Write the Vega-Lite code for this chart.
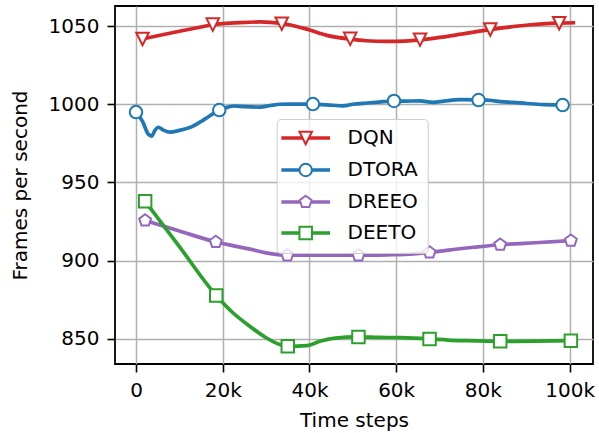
{
  "$schema": "https://vega.github.io/schema/vega-lite/v6.json",
  "width": 478,
  "height": 358,
  "autosize": {"type": "none"},
  "padding": {"left": 115, "top": 6, "right": 6, "bottom": 69},
  "config": {
    "font": "DejaVu Sans",
    "view": {"stroke": "black", "strokeWidth": 1.8},
    "axis": {
      "domain": false,
      "grid": true,
      "gridColor": "#b0b0b0",
      "gridWidth": 1.5,
      "tickColor": "black",
      "tickWidth": 1.6,
      "tickSize": 8,
      "labelFontSize": 20,
      "labelColor": "black",
      "labelPadding": 8,
      "titleFontSize": 20,
      "titleFontWeight": "normal",
      "titleColor": "black"
    }
  },
  "datasets": {
    "lines": [
      {"method": "DQN", "step": 1500, "fps": 1041.7},
      {"method": "DQN", "step": 5000, "fps": 1043.8},
      {"method": "DQN", "step": 10000, "fps": 1046.7},
      {"method": "DQN", "step": 15000, "fps": 1049.4},
      {"method": "DQN", "step": 17700, "fps": 1050.8},
      {"method": "DQN", "step": 20000, "fps": 1051.5},
      {"method": "DQN", "step": 24000, "fps": 1052.2},
      {"method": "DQN", "step": 28600, "fps": 1052.6},
      {"method": "DQN", "step": 33600, "fps": 1051.6},
      {"method": "DQN", "step": 39400, "fps": 1048.0},
      {"method": "DQN", "step": 44000, "fps": 1044.0},
      {"method": "DQN", "step": 49400, "fps": 1041.6},
      {"method": "DQN", "step": 53000, "fps": 1040.6},
      {"method": "DQN", "step": 57800, "fps": 1040.2},
      {"method": "DQN", "step": 62000, "fps": 1040.4},
      {"method": "DQN", "step": 65500, "fps": 1041.1},
      {"method": "DQN", "step": 70000, "fps": 1042.7},
      {"method": "DQN", "step": 75000, "fps": 1044.8},
      {"method": "DQN", "step": 81700, "fps": 1047.7},
      {"method": "DQN", "step": 86000, "fps": 1049.3},
      {"method": "DQN", "step": 91000, "fps": 1050.8},
      {"method": "DQN", "step": 97600, "fps": 1051.8},
      {"method": "DQN", "step": 101300, "fps": 1052.1},

      {"method": "DTORA", "step": 0, "fps": 995.0},
      {"method": "DTORA", "step": 1500, "fps": 989.0},
      {"method": "DTORA", "step": 2800, "fps": 981.0},
      {"method": "DTORA", "step": 3600, "fps": 979.7},
      {"method": "DTORA", "step": 4300, "fps": 983.0},
      {"method": "DTORA", "step": 5100, "fps": 985.3},
      {"method": "DTORA", "step": 6300, "fps": 983.5},
      {"method": "DTORA", "step": 7800, "fps": 982.2},
      {"method": "DTORA", "step": 10000, "fps": 983.3},
      {"method": "DTORA", "step": 12900, "fps": 985.7},
      {"method": "DTORA", "step": 15000, "fps": 989.0},
      {"method": "DTORA", "step": 16700, "fps": 992.0},
      {"method": "DTORA", "step": 19200, "fps": 996.3},
      {"method": "DTORA", "step": 21000, "fps": 998.0},
      {"method": "DTORA", "step": 22600, "fps": 998.9},
      {"method": "DTORA", "step": 25000, "fps": 998.5},
      {"method": "DTORA", "step": 28600, "fps": 998.2},
      {"method": "DTORA", "step": 31000, "fps": 999.2},
      {"method": "DTORA", "step": 33200, "fps": 1000.0},
      {"method": "DTORA", "step": 36000, "fps": 1000.1},
      {"method": "DTORA", "step": 40800, "fps": 1000.1},
      {"method": "DTORA", "step": 44000, "fps": 999.6},
      {"method": "DTORA", "step": 47800, "fps": 999.0},
      {"method": "DTORA", "step": 50000, "fps": 1000.0},
      {"method": "DTORA", "step": 53200, "fps": 1000.8},
      {"method": "DTORA", "step": 56000, "fps": 1001.4},
      {"method": "DTORA", "step": 59500, "fps": 1002.1},
      {"method": "DTORA", "step": 62000, "fps": 1002.0},
      {"method": "DTORA", "step": 65500, "fps": 1002.2},
      {"method": "DTORA", "step": 68500, "fps": 1001.2},
      {"method": "DTORA", "step": 71000, "fps": 1002.0},
      {"method": "DTORA", "step": 74700, "fps": 1003.0},
      {"method": "DTORA", "step": 79000, "fps": 1002.8},
      {"method": "DTORA", "step": 82000, "fps": 1002.4},
      {"method": "DTORA", "step": 84000, "fps": 1001.7},
      {"method": "DTORA", "step": 87000, "fps": 1001.2},
      {"method": "DTORA", "step": 90100, "fps": 1000.5},
      {"method": "DTORA", "step": 94000, "fps": 999.8},
      {"method": "DTORA", "step": 98400, "fps": 999.6},
      {"method": "DTORA", "step": 99400, "fps": 999.6},

      {"method": "DREEO", "step": 2100, "fps": 925.7},
      {"method": "DREEO", "step": 10000, "fps": 919.0},
      {"method": "DREEO", "step": 18400, "fps": 912.0},
      {"method": "DREEO", "step": 22000, "fps": 909.8},
      {"method": "DREEO", "step": 26300, "fps": 907.4},
      {"method": "DREEO", "step": 30000, "fps": 905.0},
      {"method": "DREEO", "step": 34900, "fps": 903.5},
      {"method": "DREEO", "step": 40000, "fps": 903.6},
      {"method": "DREEO", "step": 45000, "fps": 903.6},
      {"method": "DREEO", "step": 51300, "fps": 903.5},
      {"method": "DREEO", "step": 58000, "fps": 903.8},
      {"method": "DREEO", "step": 64000, "fps": 904.4},
      {"method": "DREEO", "step": 67700, "fps": 905.3},
      {"method": "DREEO", "step": 72000, "fps": 906.8},
      {"method": "DREEO", "step": 78000, "fps": 908.6},
      {"method": "DREEO", "step": 84000, "fps": 910.2},
      {"method": "DREEO", "step": 92000, "fps": 911.5},
      {"method": "DREEO", "step": 100300, "fps": 912.8},

      {"method": "DEETO", "step": 2100, "fps": 938.0},
      {"method": "DEETO", "step": 10000, "fps": 909.0},
      {"method": "DEETO", "step": 18500, "fps": 877.8},
      {"method": "DEETO", "step": 22400, "fps": 866.6},
      {"method": "DEETO", "step": 26300, "fps": 858.0},
      {"method": "DEETO", "step": 30100, "fps": 850.6},
      {"method": "DEETO", "step": 33200, "fps": 846.4},
      {"method": "DEETO", "step": 35000, "fps": 845.3},
      {"method": "DEETO", "step": 39400, "fps": 845.7},
      {"method": "DEETO", "step": 42400, "fps": 848.5},
      {"method": "DEETO", "step": 45500, "fps": 850.4},
      {"method": "DEETO", "step": 51300, "fps": 851.3},
      {"method": "DEETO", "step": 56000, "fps": 851.0},
      {"method": "DEETO", "step": 61000, "fps": 850.8},
      {"method": "DEETO", "step": 67700, "fps": 850.0},
      {"method": "DEETO", "step": 72000, "fps": 849.3},
      {"method": "DEETO", "step": 76300, "fps": 848.9},
      {"method": "DEETO", "step": 84000, "fps": 848.5},
      {"method": "DEETO", "step": 92000, "fps": 848.6},
      {"method": "DEETO", "step": 100300, "fps": 848.9}
    ],
    "markers": [
      {"method": "DQN", "step": 1500, "fps": 1041.7},
      {"method": "DQN", "step": 17700, "fps": 1050.9},
      {"method": "DQN", "step": 33600, "fps": 1051.5},
      {"method": "DQN", "step": 49400, "fps": 1041.8},
      {"method": "DQN", "step": 65500, "fps": 1041.3},
      {"method": "DQN", "step": 81700, "fps": 1047.8},
      {"method": "DQN", "step": 97600, "fps": 1051.8},
      {"method": "DTORA", "step": 0, "fps": 995.0},
      {"method": "DTORA", "step": 19200, "fps": 996.3},
      {"method": "DTORA", "step": 40800, "fps": 1000.1},
      {"method": "DTORA", "step": 59500, "fps": 1002.1},
      {"method": "DTORA", "step": 79000, "fps": 1002.7},
      {"method": "DTORA", "step": 98400, "fps": 999.5},
      {"method": "DREEO", "step": 2100, "fps": 925.7},
      {"method": "DREEO", "step": 18400, "fps": 912.0},
      {"method": "DREEO", "step": 34900, "fps": 903.4},
      {"method": "DREEO", "step": 51300, "fps": 903.4},
      {"method": "DREEO", "step": 67700, "fps": 905.3},
      {"method": "DREEO", "step": 84000, "fps": 910.2},
      {"method": "DREEO", "step": 100300, "fps": 912.8},
      {"method": "DEETO", "step": 2100, "fps": 938.0},
      {"method": "DEETO", "step": 18500, "fps": 877.8},
      {"method": "DEETO", "step": 35000, "fps": 845.3},
      {"method": "DEETO", "step": 51300, "fps": 851.3},
      {"method": "DEETO", "step": 67700, "fps": 850.0},
      {"method": "DEETO", "step": 84000, "fps": 848.5},
      {"method": "DEETO", "step": 100300, "fps": 848.9}
    ]
  },
  "layer": [
    {
      "data": {"name": "lines"},
      "mark": {"type": "line", "strokeWidth": 3.7, "interpolate": "monotone"},
      "encoding": {
        "x": {
          "field": "step", "type": "quantitative",
          "scale": {"domain": [-4850, 105400], "nice": false, "zero": false},
          "axis": {
            "values": [0, 20000, 40000, 60000, 80000, 100000],
            "labelExpr": "datum.value == 0 ? '0' : (datum.value / 1000) + 'k'",
            "title": "Time steps",
            "titlePadding": 10
          }
        },
        "y": {
          "field": "fps", "type": "quantitative",
          "scale": {"domain": [834, 1062.8], "nice": false, "zero": false},
          "axis": {
            "values": [850, 900, 950, 1000, 1050],
            "format": "d",
            "title": "Frames per second",
            "titlePadding": 18
          }
        },
        "color": {
          "field": "method", "type": "nominal",
          "scale": {"domain": ["DQN", "DTORA", "DREEO", "DEETO"], "range": ["#d62728", "#1f77b4", "#9467bd", "#2ca02c"]},
          "legend": {
            "orient": "none", "legendX": 161.7, "legendY": 113, "title": null,
            "fillColor": "rgba(255,255,255,0.8)", "strokeColor": "#cccccc", "cornerRadius": 4, "padding": 9,
            "labelFontSize": 20, "labelColor": "black", "symbolSize": 156, "symbolOffset": 10, "labelOffset": 31.8,
            "rowPadding": 10, "symbolStrokeWidth": 2, "symbolFillColor": "white", "symbolOpacity": 1
          }
        }
      }
    },
    {
      "data": {"name": "markers"},
      "transform": [{"filter": "datum.method == 'DQN'"}],
      "mark": {"type": "point", "shape": "M0,1L-1,-1L1,-1Z", "filled": false, "fill": "white", "opacity": 1, "strokeWidth": 2, "size": 156},
      "encoding": {
        "x": {"field": "step", "type": "quantitative"},
        "y": {"field": "fps", "type": "quantitative"},
        "color": {"field": "method", "type": "nominal"}
      }
    },
    {
      "data": {"name": "markers"},
      "transform": [{"filter": "datum.method == 'DTORA'"}],
      "mark": {"type": "point", "shape": "circle", "filled": false, "fill": "white", "opacity": 1, "strokeWidth": 2, "size": 156},
      "encoding": {
        "x": {"field": "step", "type": "quantitative"},
        "y": {"field": "fps", "type": "quantitative"},
        "color": {"field": "method", "type": "nominal"}
      }
    },
    {
      "data": {"name": "markers"},
      "transform": [{"filter": "datum.method == 'DREEO'"}],
      "mark": {"type": "point", "shape": "M0,-1L0.951,-0.309L0.588,0.809L-0.588,0.809L-0.951,-0.309Z", "filled": false, "fill": "white", "opacity": 1, "strokeWidth": 2, "size": 156},
      "encoding": {
        "x": {"field": "step", "type": "quantitative"},
        "y": {"field": "fps", "type": "quantitative"},
        "color": {"field": "method", "type": "nominal"}
      }
    },
    {
      "data": {"name": "markers"},
      "transform": [{"filter": "datum.method == 'DEETO'"}],
      "mark": {"type": "point", "shape": "square", "filled": false, "fill": "white", "opacity": 1, "strokeWidth": 2, "size": 156},
      "encoding": {
        "x": {"field": "step", "type": "quantitative"},
        "y": {"field": "fps", "type": "quantitative"},
        "color": {"field": "method", "type": "nominal"}
      }
    },
    {
      "data": {"name": "markers"},
      "mark": {"type": "point", "filled": false, "opacity": 0, "size": 156},
      "encoding": {
        "x": {"field": "step", "type": "quantitative"},
        "y": {"field": "fps", "type": "quantitative"},
        "color": {"field": "method", "type": "nominal"},
        "shape": {
          "field": "method", "type": "nominal",
          "scale": {
            "domain": ["DQN", "DTORA", "DREEO", "DEETO"],
            "range": [
              "M-3.9,-0.12H-0.5M-3.9,0.12H-0.5M0.5,-0.12H3.9M0.5,0.12H3.9M0,1L-1,-1L1,-1Z",
              "M-3.9,-0.12H-1M-3.9,0.12H-1M1,-0.12H3.9M1,0.12H3.9M1,0A1,1,0,1,1,-1,0A1,1,0,1,1,1,0Z",
              "M-3.9,-0.12H-0.85M-3.9,0.12H-0.85M0.85,-0.12H3.9M0.85,0.12H3.9M0,-1L0.951,-0.309L0.588,0.809L-0.588,0.809L-0.951,-0.309Z",
              "M-3.9,-0.12H-1M-3.9,0.12H-1M1,-0.12H3.9M1,0.12H3.9M-1,-1H1V1H-1Z"
            ]
          }
        }
      }
    }
  ]
}
